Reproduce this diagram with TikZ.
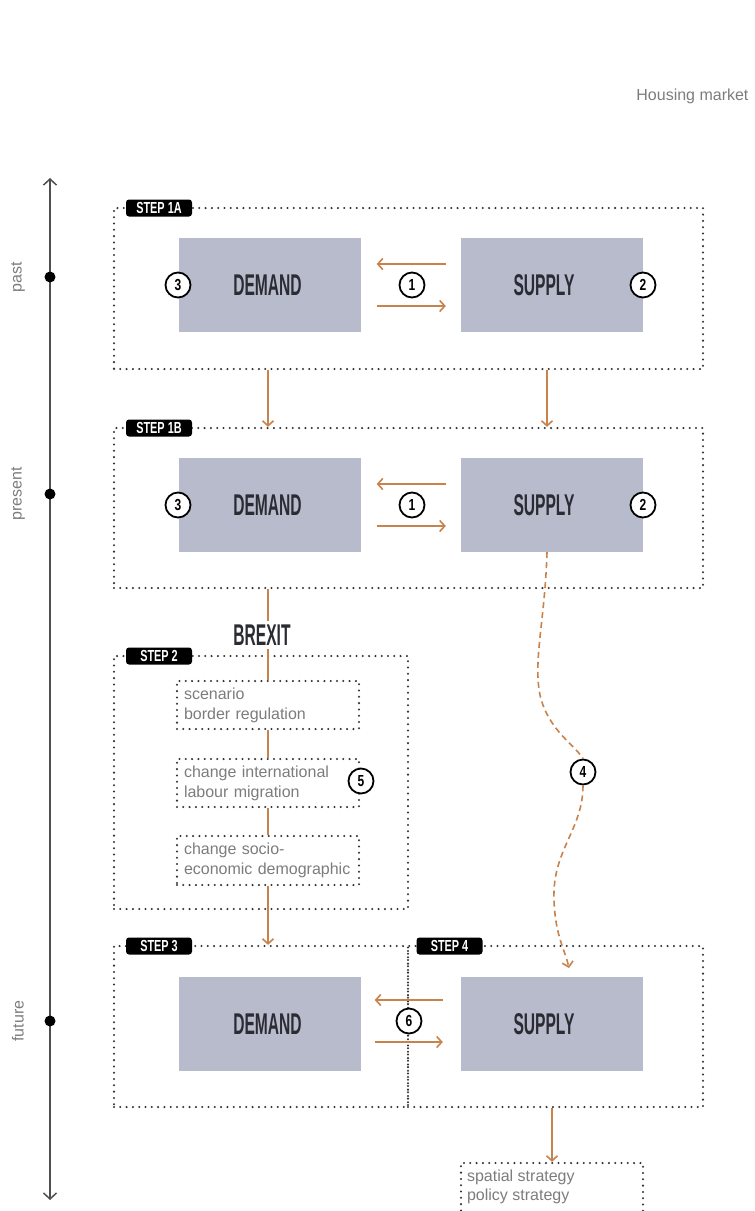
\documentclass[tikz,border=0pt]{standalone}
\usepackage{fontspec}
\usepackage{graphicx}
\setmainfont{Liberation Sans}
\usetikzlibrary{arrows.meta,calc}
\definecolor{org}{HTML}{C8824C}
\definecolor{boxfill}{HTML}{B7BBCB}
\definecolor{dark}{HTML}{2A2B33}
\definecolor{framec}{HTML}{333333}
\definecolor{txtgray}{HTML}{7C7C7C}
\definecolor{tlgray}{HTML}{4F4F4F}
\newcommand{\cnd}[2]{\scalebox{#1}[1]{#2}}
\begin{document}
\begin{tikzpicture}[x=1pt,y=-1pt,
 frm/.style={draw=framec, line width=2.3pt, dash pattern=on 0pt off 6.3pt, line cap=round, inner sep=0pt},
 gbox/.style={fill=boxfill, minimum width=182pt, minimum height=94pt, inner sep=0pt, text=dark, font=\fontsize{30}{30}\selectfont\bfseries},
 num/.style={circle, draw=black, line width=1.8pt, fill=white, minimum size=25pt, inner sep=0pt, font=\fontsize{16}{16}\selectfont\bfseries},
 tag/.style={fill=black, rounded corners=3pt, minimum width=66pt, minimum height=17pt, inner sep=0pt, text=white, font=\fontsize{16}{16}\selectfont\bfseries},
 ibox/.style={frm, minimum width=182pt, minimum height=48pt, text width=168pt, inner xsep=7pt, inner ysep=0pt, align=left, text=txtgray, font=\fontsize{16}{20}\selectfont},
 oline/.style={draw=org, line width=1.6pt},
 oarr/.style={oline, -{Straight Barb[length=5pt,width=11pt]}},
 odash/.style={oline, dash pattern=on 6pt off 4pt},
 side/.style={rotate=90, text=txtgray, font=\fontsize{16}{16}\selectfont},
 tdot/.style={circle, fill=black, minimum size=11pt, inner sep=0pt}
]
\clip (0,0) rectangle (755,1211);

% header
\node[anchor=east, text=txtgray, font=\fontsize{16}{16}\selectfont] (hm) at (752,96) {Housing market};

% timeline
\coordinate (ttop) at (50,178);
\coordinate (tbot) at (50,1200);
\draw[tlgray, line width=1.5pt, {Straight Barb[length=6pt,width=13pt]}-{Straight Barb[length=6pt,width=13pt]}] (tbot) -- (ttop);
\node[tdot] (tpast) at (50,277) {};
\node[tdot] (tpres) at (50,494) {};
\node[tdot] (tfut) at (50,1021) {};
\node[side] (lpast) at (18,277) {past};
\node[side] (lpres) at (18,494) {present};
\node[side] (lfut) at (18,1021) {future};

% frames
\node[frm, minimum width=589pt, minimum height=161pt] (f1a) at (408.5,288.5) {};
\node[frm, minimum width=589pt, minimum height=160pt] (f1b) at (408.5,508) {};
\node[frm, minimum width=294pt, minimum height=253pt] (f2) at (261,782.5) {};
\node[frm, minimum width=294pt, minimum height=161pt] (f3) at (261,1026.5) {};
\node[frm, minimum width=295pt, minimum height=161pt] (f4) at (555.5,1026.5) {};

% grey boxes
\node[gbox] (d1) at (269.5,285) {\hspace*{-4pt}\cnd{0.52}{DEMAND}};
\node[gbox] (s1) at (552,285) {\hspace*{-16pt}\cnd{0.52}{SUPPLY}};
\node[gbox] (d2) at (269.5,505) {\hspace*{-4pt}\cnd{0.52}{DEMAND}};
\node[gbox] (s2) at (552,505) {\hspace*{-16pt}\cnd{0.52}{SUPPLY}};
\node[gbox] (d3) at (269.5,1024) {\hspace*{-4pt}\cnd{0.52}{DEMAND}};
\node[gbox] (s3) at (552,1024) {\hspace*{-16pt}\cnd{0.52}{SUPPLY}};

% tags
\node[tag] (t1a) at (159,208) {\cnd{0.68}{STEP 1A}};
\node[tag] (t1b) at (159,428) {\cnd{0.68}{STEP 1B}};
\node[tag] (t2) at (159,656) {\cnd{0.68}{STEP 2}};
\node[tag] (t3) at (159,946) {\cnd{0.68}{STEP 3}};
\node[tag] (t4) at (449.5,946) {\cnd{0.68}{STEP 4}};

% step 2 content
\node[text=dark, minimum height=28pt, inner sep=0pt, font=\fontsize{30}{30}\selectfont\bfseries] (br) at (262,635) {\cnd{0.52}{BREXIT}};
\node[ibox] (sc) at (268,705) {scenario\\border regulation};
\node[ibox] (li) at (268,783) {change international\\labour migration};
\node[ibox, minimum height=49pt] (so) at (268,860.5) {change socio-\\economic demographic};

% final box
\node[frm, minimum width=182pt, minimum height=80pt] (fb) at (552,1203) {};
\node[anchor=north west, align=left, inner sep=0pt, text=txtgray, font=\fontsize{16}{19}\selectfont] (fbt) at ($(fb.north west)+(7,8)$) {spatial strategy\\policy strategy};

% orange connectors
\draw[oarr] (f1a.south -| sc.north) -- (f1b.north -| sc.north);
\draw[oarr] ($(f1a.south -| s1.center)+(-5,0)$) -- ($(f1b.north -| s1.center)+(-5,0)$);
\draw[oarr] ($(s1.west)+(-15,-21)$) -- ($(d1.east)+(16,-21)$);
\draw[oarr] ($(d1.east)+(16,21)$) -- ($(s1.west)+(-15,21)$);
\draw[oarr] ($(s2.west)+(-15,-21)$) -- ($(d2.east)+(16,-21)$);
\draw[oarr] ($(d2.east)+(16,21)$) -- ($(s2.west)+(-15,21)$);
\draw[oarr] ($(s3.west)+(-18,-24)$) -- ($(d3.east)+(14,-24)$);
\draw[oarr] ($(d3.east)+(14,18)$) -- ($(s3.west)+(-18,18)$);

\draw[oline] (f1b.south -| sc.north) -- (br.north -| sc.north);
\draw[oline] (br.south -| sc.north) -- (sc.north);
\draw[oline] (sc.south) -- (li.north);
\draw[oline] (li.south) -- (so.north);
\draw[oarr] (so.south) -- (so.south |- f3.north);
\draw[oarr] (f4.south -| fb.north) -- (fb.north);

% wavy dashed connector 4
\node[num] (n4) at (583,772) {\cnd{0.75}{4}};
\draw[odash] ($(s2.south)+(-5,0)$) .. controls (545,620) and (533,660) .. (540,695) .. controls (548,730) and (575,745) .. (n4.north);
\draw[odash, -{Straight Barb[length=5pt,width=11pt]}] (n4.south) .. controls (583,830) and (552,850) .. (554,900) .. controls (555,935) and (565,950) .. (569,968);

% numbered circles
\node[num] (n3a) at (178,285) {\cnd{0.75}{3}};
\node[num] (n1a) at (412,285) {\cnd{0.75}{1}};
\node[num] (n2a) at (643,285) {\cnd{0.75}{2}};
\node[num] (n3b) at (178,505) {\cnd{0.75}{3}};
\node[num] (n1b) at (412,505) {\cnd{0.75}{1}};
\node[num] (n2b) at (643,505) {\cnd{0.75}{2}};
\node[num] (n5) at (361,781) {\cnd{0.75}{5}};
\node[num] (n6) at (409,1021) {\cnd{0.75}{6}};
\end{tikzpicture}
\end{document}
